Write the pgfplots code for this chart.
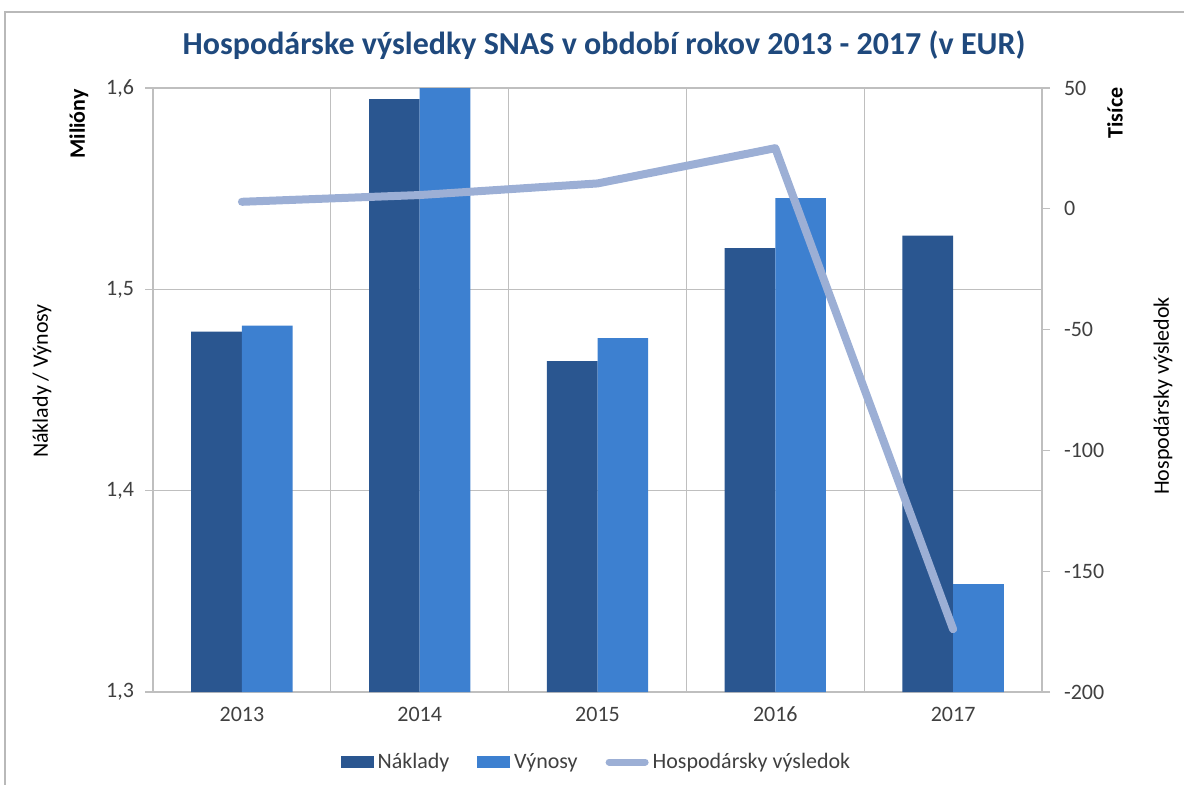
\documentclass[border=0pt]{standalone}
\usepackage{fontspec}
\setmainfont{Carlito}
\usepackage{pgfplots}
\pgfplotsset{compat=1.18}
\definecolor{naklady}{HTML}{2A5690}
\definecolor{vynosy}{HTML}{3D80D0}
\definecolor{hv}{HTML}{9CAFD5}
\definecolor{titlec}{HTML}{1F497D}
\definecolor{gridc}{HTML}{BFBFBF}
\definecolor{txt}{HTML}{404040}
\begin{document}
\begin{tikzpicture}[x=0.5pt,y=0.5pt]
\path[use as bounding box] (0,0) rectangle (1184,784);
\draw[gray!55, line width=0.8pt] (5,-10) rectangle (1200,772);
\node[font=\fontsize{16}{18}\selectfont\bfseries, text=titlec] at (604,739) {Hospodárske výsledky SNAS v období rokov 2013 - 2017 (v EUR)};
\begin{axis}[
  at={(76.5pt,46pt)}, anchor=south west, scale only axis,
  width=444.5pt, height=302pt,
  xmin=-0.5, xmax=4.5, ymin=1.3, ymax=1.6,
  ytick={1.3,1.4,1.5,1.6},
  xtick={0,1,2,3,4}, xticklabels={2013,2014,2015,2016,2017},
  minor xtick={0.5,1.5,2.5,3.5},
  xminorgrids, ymajorgrids,
  grid style={gridc, line width=0.6pt},
  minor grid style={gridc, line width=0.6pt},
  axis line style={gridc, line width=0.6pt},
  axis y line*=left, axis x line*=bottom,
  x axis line style={-}, y axis line style={-},
  tick align=outside,
  major tick length=4pt,
  minor tick length=0pt,
  xtick style={draw=none},
  ytick style={gridc, line width=0.6pt},
  tick label style={font=\fontsize{11}{13}\selectfont, text=txt},
  yticklabel style={xshift=-2pt},
  /pgf/number format/assume math mode=true,
  yticklabel style={/pgf/number format/.cd, fixed, fixed zerofill, precision=1, use comma},
  ybar=0pt, bar width=0.285,
  clip=true,
]
\addplot[draw=none, fill=naklady] coordinates {(0,1.479) (1,1.5945) (2,1.4644) (3,1.5205) (4,1.5267)};
\addplot[draw=none, fill=vynosy] coordinates {(0,1.482) (1,1.601) (2,1.4758) (3,1.5453) (4,1.3536)};
\end{axis}
\begin{axis}[
  at={(76.5pt,46pt)}, anchor=south west, scale only axis,
  width=444.5pt, height=302pt,
  xmin=-0.5, xmax=4.5, ymin=-200, ymax=50,
  ytick={-200,-150,-100,-50,0,50},
  axis y line*=right, axis x line=none,
  axis line style={gridc, line width=0.6pt},
  y axis line style={-},
  tick align=outside, major tick length=4pt,
  ytick style={gridc, line width=0.6pt},
  tick label style={font=\fontsize{11}{13}\selectfont, text=txt},
  yticklabel style={xshift=3.5pt},
  /pgf/number format/assume math mode=true,
  legend style={at={(0.5,-0.116)}, anchor=center, draw=none, fill=none,
    font=\fontsize{11}{13}\selectfont, text=txt, legend columns=3,
    /tikz/every even column/.append style={column sep=12pt}},
  legend cell align=left,
]
\addlegendimage{legend image code/.code={\fill[naklady] (0pt,-2.6pt) rectangle (16pt,2.6pt);}}
\addlegendentry{Náklady}
\addlegendimage{legend image code/.code={\fill[vynosy] (0pt,-2.6pt) rectangle (16pt,2.6pt);}}
\addlegendentry{Výnosy}
\addplot[hv, line width=4pt, line cap=round, line join=round, mark=none,
  legend image code/.code={\draw[hv, line width=3.5pt] (0pt,0pt) -- (18pt,0pt);}]
  coordinates {(0,2.9) (1,5.7) (2,10.5) (3,25.1) (4,-174.0)};
\addlegendentry{Hospodársky výsledok}
\end{axis}
\node[rotate=90, font=\fontsize{11}{13}\selectfont, text=black] at (42,403) {Náklady / Výnosy};
\node[rotate=90, font=\fontsize{11}{13}\selectfont\bfseries, text=black] at (79,660) {Milióny};
\node[rotate=90, font=\fontsize{11}{13}\selectfont\bfseries, text=black] at (1115,671) {Tisíce};
\node[rotate=90, font=\fontsize{11}{13}\selectfont, text=black] at (1163,388) {Hospodársky výsledok};
\end{tikzpicture}
\end{document}
